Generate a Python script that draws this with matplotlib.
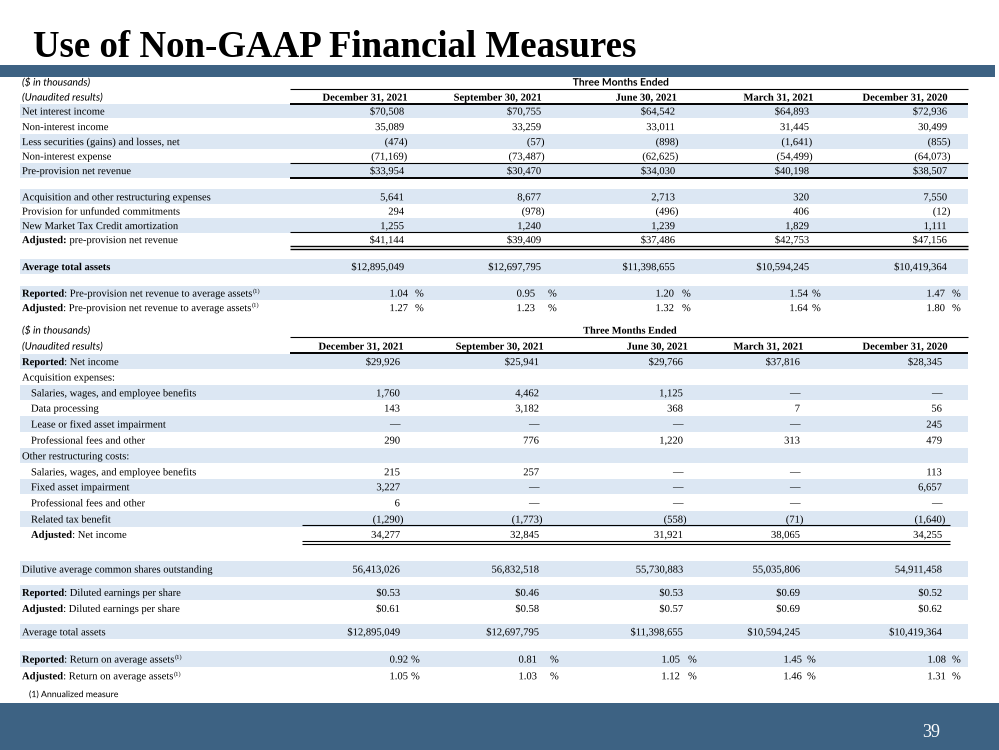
import matplotlib
matplotlib.use("Agg")
import matplotlib.pyplot as plt
import matplotlib.patheffects as pe
from matplotlib.patches import Rectangle

# ---- data -------------------------------------------------------------
title = "Use of Non-GAAP Financial Measures"
periods = ["December 31, 2021", "September 30, 2021", "June 30, 2021",
           "March 31, 2021", "December 31, 2020"]

# table 1: pre-provision net revenue
net_interest_income = [70508, 70755, 64542, 64893, 72936]
non_interest_income = [35089, 33259, 33011, 31445, 30499]
securities_gains_losses = [-474, -57, -898, -1641, -855]
non_interest_expense = [-71169, -73487, -62625, -54499, -64073]
ppnr = [33954, 30470, 34030, 40198, 38507]
acq_restructuring = [5641, 8677, 2713, 320, 7550]
unfunded_provision = [294, -978, -496, 406, -12]
nmtc_amortization = [1255, 1240, 1239, 1829, 1111]
adj_ppnr = [41144, 39409, 37486, 42753, 47156]
avg_total_assets = [12895049, 12697795, 11398655, 10594245, 10419364]
ppnr_to_assets = [1.04, 0.95, 1.20, 1.54, 1.47]
adj_ppnr_to_assets = [1.27, 1.23, 1.32, 1.64, 1.80]

# table 2: net income / EPS / ROA
net_income = [29926, 25941, 29766, 37816, 28345]
acq_salaries = [1760, 4462, 1125, None, None]
acq_data_processing = [143, 3182, 368, 7, 56]
acq_lease_impairment = [None, None, None, None, 245]
acq_professional = [290, 776, 1220, 313, 479]
oth_salaries = [215, 257, None, None, 113]
oth_fixed_asset = [3227, None, None, None, 6657]
oth_professional = [6, None, None, None, None]
related_tax_benefit = [-1290, -1773, -558, -71, -1640]
adj_net_income = [34277, 32845, 31921, 38065, 34255]
diluted_shares = [56413026, 56832518, 55730883, 55035806, 54911458]
diluted_eps = [0.53, 0.46, 0.53, 0.69, 0.52]
adj_diluted_eps = [0.61, 0.58, 0.57, 0.69, 0.62]
roa = [0.92, 0.81, 1.05, 1.45, 1.08]
adj_roa = [1.05, 1.03, 1.12, 1.46, 1.31]

# (bold part, regular part, values, kind, indent, striped, superscript)
table1 = [
    ("", "Net interest income", net_interest_income, "dollar", 0, True, False),
    ("", "Non-interest income", non_interest_income, "num", 0, False, False),
    ("", "Less securities (gains) and losses, net", securities_gains_losses, "num", 0, True, False),
    ("", "Non-interest expense", non_interest_expense, "num", 0, False, False),
    ("", "Pre-provision net revenue", ppnr, "dollar", 0, True, False),
    ("", "Acquisition and other restructuring expenses", acq_restructuring, "num", 0, True, False),
    ("", "Provision for unfunded commitments", unfunded_provision, "num", 0, False, False),
    ("", "New Market Tax Credit amortization", nmtc_amortization, "num", 0, True, False),
    ("Adjusted:", " pre-provision net revenue", adj_ppnr, "dollar", 0, False, False),
    ("Average total assets", "", avg_total_assets, "dollar", 0, True, False),
    ("Reported", ": Pre-provision net revenue to average assets", ppnr_to_assets, "pct", 0, True, True),
    ("Adjusted", ": Pre-provision net revenue to average assets", adj_ppnr_to_assets, "pct", 0, False, True),
]
table1_y = [111, 126.5, 141.5, 156, 170.5, 196.7, 211, 225.5, 239.5, 266.5, 293, 307.5]

table2 = [
    ("Reported", ": Net income", net_income, "dollar", 0, True, False),
    ("", "Acquisition expenses:", None, None, 0, False, False),
    ("", "Salaries, wages, and employee benefits", acq_salaries, "num", 1, True, False),
    ("", "Data processing", acq_data_processing, "num", 1, False, False),
    ("", "Lease or fixed asset impairment", acq_lease_impairment, "num", 1, True, False),
    ("", "Professional fees and other", acq_professional, "num", 1, False, False),
    ("", "Other restructuring costs:", None, None, 0, True, False),
    ("", "Salaries, wages, and employee benefits", oth_salaries, "num", 1, False, False),
    ("", "Fixed asset impairment", oth_fixed_asset, "num", 1, True, False),
    ("", "Professional fees and other", oth_professional, "num", 1, False, False),
    ("", "Related tax benefit", related_tax_benefit, "num", 1, True, False),
    ("Adjusted", ": Net income", adj_net_income, "num", 1, False, False),
    ("", "Dilutive average common shares outstanding", diluted_shares, "num", 0, True, False),
    ("Reported", ": Diluted earnings per share", diluted_eps, "eps", 0, True, False),
    ("Adjusted", ": Diluted earnings per share", adj_diluted_eps, "eps", 0, False, False),
    ("", "Average total assets", avg_total_assets, "dollar", 0, True, False),
    ("Reported", ": Return on average assets", roa, "pct", 0, True, True),
    ("Adjusted", ": Return on average assets", adj_roa, "pct", 0, False, True),
]
table2_y = [361.5, 377, 392.7, 408, 424, 440, 455.7, 471.7, 486.7, 502.7,
            519, 534.3, 569, 592.3, 608.3, 631.7, 659, 675.7]

# ---- layout / style ---------------------------------------------------
BAND = "#3D6283"
STRIPE = "#DCE7F3"
SERIF = "Liberation Serif"
SANS = "Lato"
FS = 7.6
BL = 3.6  # row centre -> text baseline, px
ASPATH = [pe.Normal()]  # draw glyphs as paths so baselines line up

t1_val_right = [404, 541, 675, 809, 947]
t1_head_right = [407, 541, 677, 813, 947]
t1_pct_right = [408, 535, 674, 808, 945]
t1_pct_sign = [415, 548, 682, 812, 952]
t2_val_right = [400, 539, 683, 800, 942]
t2_head_right = [403, 543, 688, 803, 947]
t2_pct_right = [408, 537, 680, 802, 946]
t2_pct_sign = [411, 550, 688, 807, 952]

fig = plt.figure(figsize=(9.99, 7.5), dpi=100)
ax = fig.add_axes([0, 0, 1, 1])
ax.set_xlim(0, 999)
ax.set_ylim(750, 0)
ax.axis("off")

# title and bands
ax.text(33, 57, title, fontsize=26.6, fontweight="bold", family=SERIF,
        ha="left", va="baseline")
ax.add_patch(Rectangle((0, 65), 995, 12, color=BAND, lw=0))
ax.add_patch(Rectangle((0, 703), 999, 47, color=BAND, lw=0))
ax.text(931, 737, "39", fontsize=13, family=SERIF, color="white",
        ha="center", va="baseline")


def fmt(v, kind):
    if v is None:
        return "\u2014"
    if kind == "eps":
        return f"${v:.2f}"
    if kind == "pct":
        return f"{v:.2f}"
    s = f"{abs(v):,}"
    if v < 0:
        return f"({s})"
    return ("$" + s) if kind == "dollar" else s


def hline(y, x0, x1, lw=0.8):
    ax.plot([x0, x1], [y, y], color="black", lw=lw, solid_capstyle="butt")


def txt(x, y, s, ha="left", aspath=True, **kw):
    return ax.text(x, y + BL, s, fontsize=kw.pop("fontsize", FS),
                   family=kw.pop("family", SERIF), ha=ha, va="baseline",
                   path_effects=ASPATH if aspath else None, **kw)


def draw_label(x, y, bold, rest, sup):
    last = None
    if bold:
        last = txt(x, y, bold, fontweight="bold")
    if rest:
        if last is None:
            last = txt(x, y, rest)
        else:
            last = ax.annotate(rest, xy=(1, y + BL), xycoords=(last, "data"),
                               xytext=(0.4, 0), textcoords="offset points",
                               fontsize=FS, family=SERIF, ha="left",
                               va="baseline", path_effects=ASPATH)
    if sup:
        ax.annotate("(1)", xy=(1, y - 0.5), xycoords=(last, "data"),
                    xytext=(0.3, 0), textcoords="offset points",
                    fontsize=4.8, family=SERIF, ha="left", va="baseline")


def draw_table(rows, ys, val_right, pct_right, pct_sign, stripe_h):
    for (bold, rest, vals, kind, indent, striped, sup), y in zip(rows, ys):
        if striped:
            ax.add_patch(Rectangle((20, y - stripe_h / 2), 948, stripe_h,
                                   color=STRIPE, lw=0, zorder=0))
        draw_label(22 + 9 * indent, y, bold, rest, sup)
        if vals is None:
            continue
        for i, v in enumerate(vals):
            s = fmt(v, kind)
            if kind == "pct":
                txt(pct_right[i], y, s, ha="right")
                txt(pct_sign[i], y, "%")
            elif v is None:
                # em dash drawn as normal text (path rendering drops it)
                txt(val_right[i], y, s, ha="right", aspath=False)
            else:
                xr = val_right[i] + (3.3 if v < 0 else 0)
                txt(xr, y, s, ha="right")


def draw_header(y_top, y_head, head_right, months_font, months_x):
    txt(22, y_top, "($ in thousands)", fontsize=7.4, family=SANS, style="italic")
    txt(22, y_head, "(Unaudited results)", fontsize=7.4, family=SANS,
        style="italic")
    txt(months_x, y_top, "Three Months Ended", ha="center", fontsize=7.4,
        family=months_font, fontweight="bold")
    for xr, p in zip(head_right, periods):
        txt(xr, y_head, p, ha="right", fontweight="bold")


# table 1
draw_header(82, 97, t1_head_right, SANS, 621)
draw_table(table1, table1_y, t1_val_right, t1_pct_right, t1_pct_sign, 14.5)
hline(89, 290, 968, 0.8)
hline(103.5, 290, 968, 1.4)
hline(162.8, 290, 968, 0.8)
hline(177.8, 290, 968, 1.4)
hline(232.3, 290, 968, 0.8)
hline(246.3, 290, 968, 1.0)
hline(248.6, 290, 968, 1.0)

# table 2
draw_header(330, 346, t2_head_right, SERIF, 630)
draw_table(table2, table2_y, t2_val_right, t2_pct_right, t2_pct_sign, 15.5)
hline(336.7, 290, 968, 0.8)
hline(353.2, 290, 968, 1.4)
hline(525.3, 302, 950, 0.8)
hline(541.3, 302, 950, 0.8)
hline(543.8, 302, 950, 0.8)

txt(29, 693.5, "(1) Annualized measure", fontsize=6.3, family=SANS)

fig.savefig("out.png", dpi=100)
